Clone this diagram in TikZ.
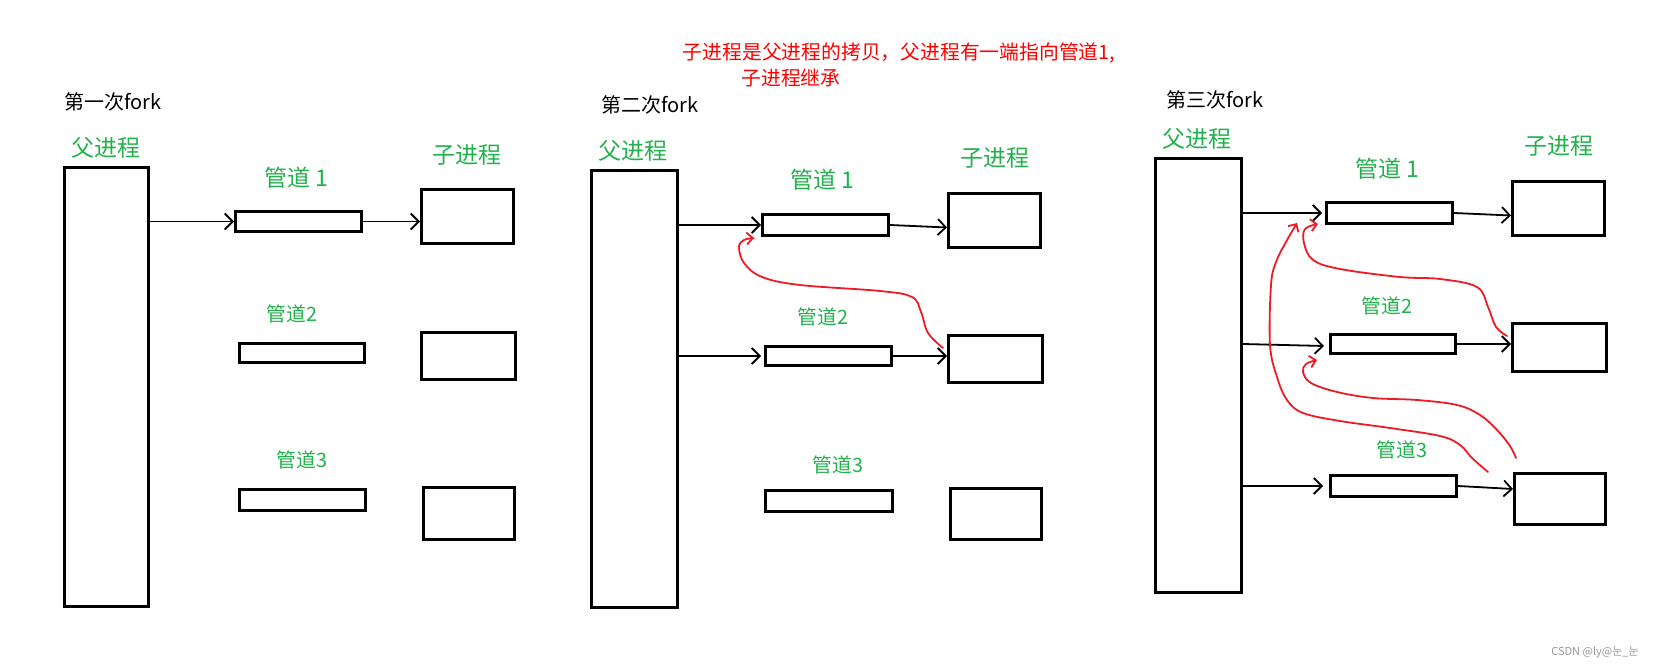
\documentclass[tikz,border=0pt]{standalone}
\usepackage{fontspec}
\setmainfont{Noto Sans CJK SC}
\usetikzlibrary{arrows.meta,calc}
\definecolor{pgreen}{RGB}{34,177,76}
\definecolor{pred}{RGB}{237,28,36}
\definecolor{tred}{RGB}{255,0,0}
\definecolor{wm}{RGB}{150,150,150}
\tikzset{
  box/.style={draw=black, line width=3pt, inner sep=0pt},
  glab/.style={text=pgreen, inner sep=0pt, font=\fontsize{23}{23}\selectfont},
  glabs/.style={text=pgreen, inner sep=0pt, font=\fontsize{19.8}{20}\selectfont},
  ttl/.style={text=black, inner sep=0pt, font=\fontsize{20}{20}\selectfont},
  rtxt/.style={text=tred, inner sep=0pt, font=\fontsize{19.8}{20}\selectfont},
  arr/.style={draw=black, line width=1.8pt, line cap=round, -{Straight Barb[length=8pt,width=16pt]}},
  rarr/.style={draw=pred, line width=1.8pt, line cap=round, -{Straight Barb[length=6pt,width=12pt]}},
}
\begin{document}
\begin{tikzpicture}[x=1pt,y=-1pt]
\useasboundingbox (0,0) rectangle (1661,668);

% ---------- top red note ----------
\node[rtxt] (note1) at (899,53) {子进程是父进程的拷贝，父进程有一端指向管道1,};
\node[rtxt] (note2) at (791,78) {子进程继承};

% ---------- panel 1 ----------
\node[ttl] (t1) at (113,102) {第一次fork};
\node[glab] (f1) at (106,148) {父进程};
\node[glab] (g11) at (296,178) {管道 1};
\node[glab] (c1) at (467,155) {子进程};
\node[glabs] (g12) at (292,314) {管道2};
\node[glabs] (g13) at (302,460) {管道3};

\node[box, minimum width=84pt, minimum height=439pt] (P1par) at (106.5,387) {};
\node[box, minimum width=126pt, minimum height=20pt] (P1pipe1) at (298.5,221.5) {};
\node[box, minimum width=92pt, minimum height=54pt] (P1ch1) at (467.5,216.5) {};
\node[box, minimum width=125pt, minimum height=19pt] (P1pipe2) at (302,353) {};
\node[box, minimum width=94pt, minimum height=47pt] (P1ch2) at (468.5,356) {};
\node[box, minimum width=126pt, minimum height=21pt] (P1pipe3) at (302.5,500) {};
\node[box, minimum width=91pt, minimum height=52pt] (P1ch3) at (469,513) {};

\draw[arr] (P1par.east |- P1pipe1.west) -- (P1pipe1.west);
\draw[arr] (P1pipe1.east) -- ($(P1ch1.west)+(0,5)$);

% ---------- panel 2 ----------
\node[ttl] (t2) at (650,105) {第二次fork};
\node[glab] (f2) at (633,151) {父进程};
\node[glab] (g21) at (822,180) {管道 1};
\node[glab] (c2) at (995,158) {子进程};
\node[glabs] (g22) at (823,317) {管道2};
\node[glabs] (g23) at (838,465) {管道3};

\node[box, minimum width=86pt, minimum height=437pt] (P2par) at (634.5,389) {};
\node[box, minimum width=126pt, minimum height=21pt] (P2pipe1) at (825.5,225) {};
\node[box, minimum width=92pt, minimum height=54pt] (P2ch1) at (994.5,220.5) {};
\node[box, minimum width=126pt, minimum height=19pt] (P2pipe2) at (828.5,356) {};
\node[box, minimum width=94pt, minimum height=47pt] (P2ch2) at (995.5,359) {};
\node[box, minimum width=127pt, minimum height=21pt] (P2pipe3) at (829,501) {};
\node[box, minimum width=91pt, minimum height=51pt] (P2ch3) at (996,514) {};

\draw[arr] (P2par.east |- P2pipe1.west) -- (P2pipe1.west);
\draw[arr] (P2pipe1.east) -- ($(P2ch1.west)+(0,7)$);
\draw[arr] (P2par.east |- P2pipe2.west) -- ($(P2pipe2.west)+(-3,0)$);
\draw[arr] (P2pipe2.east) -- (P2ch2.west |- P2pipe2.east);

\coordinate (r2s) at (943,348);
\coordinate (r2e) at (754,238);
\draw[rarr] plot[smooth, tension=0.6] coordinates {(r2s) (928,333) (921,312) (912,297) (880,291) (800,285) (762,277) (744,263) (739,247) (744,240) (r2e)};

% ---------- panel 3 ----------
\node[ttl] (t3) at (1215,100) {第三次fork};
\node[glab] (f3) at (1197,139) {父进程};
\node[glab] (g31) at (1387,169) {管道 1};
\node[glab] (c3) at (1559,146) {子进程};
\node[glabs] (g32) at (1387,306) {管道2};
\node[glabs] (g33) at (1402,450) {管道3};

\node[box, minimum width=86pt, minimum height=434pt] (P3par) at (1198.5,375.5) {};
\node[box, minimum width=126pt, minimum height=21pt] (P3pipe1) at (1389.5,213) {};
\node[box, minimum width=92pt, minimum height=54pt] (P3ch1) at (1558.5,208.5) {};
\node[box, minimum width=125pt, minimum height=19pt] (P3pipe2) at (1393,344) {};
\node[box, minimum width=94pt, minimum height=48pt] (P3ch2) at (1559.5,347.5) {};
\node[box, minimum width=126pt, minimum height=21pt] (P3pipe3) at (1393.5,486) {};
\node[box, minimum width=91pt, minimum height=51pt] (P3ch3) at (1560,499) {};

\draw[arr] (P3par.east |- P3pipe1.west) -- ($(P3pipe1.west)+(-3,0)$);
\draw[arr] (P3pipe1.east) -- ($(P3ch1.west)+(0,7)$);
\draw[arr] (P3par.east |- P3pipe2.west) -- ($(P3pipe2.west)+(-5,2)$);
\draw[arr] (P3pipe2.east) -- (P3ch2.west |- P3pipe2.east);
\draw[arr] (P3par.east |- P3pipe3.west) -- ($(P3pipe3.west)+(-6,0)$);
\draw[arr] (P3pipe3.east) -- ($(P3ch3.west)+(0,-10)$);

\coordinate (r3as) at (1507,336);
\coordinate (r3ae) at (1318,224);
\draw[rarr] plot[smooth, tension=0.6] coordinates {(r3as) (1496,327) (1488,307) (1477,287) (1440,279) (1400,277) (1340,269) (1313,260) (1304,243) (1305,229) (r3ae)};

\coordinate (r3bs) at (1488,472);
\coordinate (r3be) at (1297,223);
\draw[rarr] plot[smooth, tension=0.6] coordinates {(r3bs) (1472,458) (1460,445) (1440,436) (1390,428) (1340,421) (1303,413) (1287,400) (1277,377) (1270,345) (1271,285) (1276,262) (1286,242) (r3be)};

\coordinate (r3cs) at (1516,458);
\coordinate (r3ce) at (1317,360);
\draw[rarr] plot[smooth, tension=0.6] coordinates {(r3cs) (1510,446) (1497,430) (1480,415) (1457,405) (1417,400) (1373,398) (1337,392) (1311,383) (1303,372) (1306,364) (r3ce)};

% ---------- watermark ----------
\node[text=wm, inner sep=0pt, font=\fontsize{11}{11}\selectfont] (wmk) at (1595,652) {CSDN @ly@눈\_눈};
\end{tikzpicture}
\end{document}
